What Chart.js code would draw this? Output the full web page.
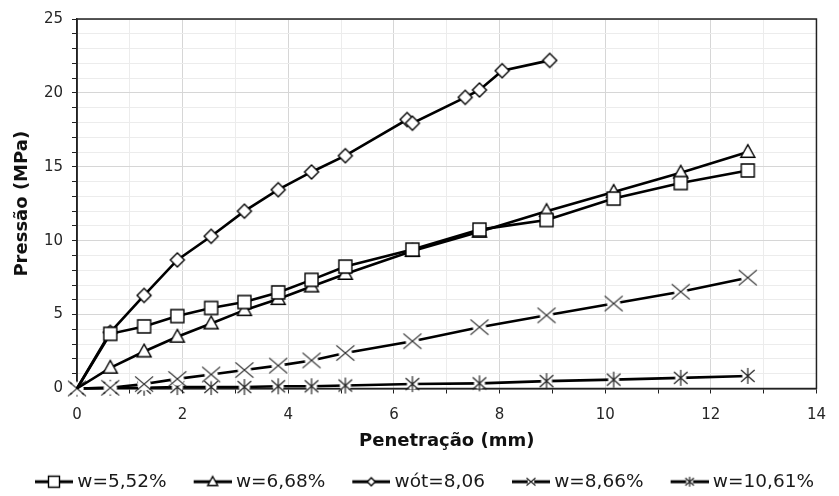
<!DOCTYPE html>
<html>
<head>
<meta charset="utf-8">
<script src="https://cdn.jsdelivr.net/npm/chart.js@4"></script>
<style>
  html, body { margin: 0; padding: 0; background: #fff; }
</style>
</head>
<body>
<canvas id="chart" width="839" height="496"></canvas>
<script>
const seriesNames = ['w=5,52%', 'w=6,68%', 'wót=8,06', 'w=8,66%', 'w=10,61%'];
const penetration = [0, 0.63, 1.27, 1.9, 2.54, 3.17, 3.81, 4.44, 5.08, 6.35, 7.62, 8.89, 10.16, 11.43, 12.7];
const pressureW552 = [0, 3.7, 4.2, 4.9, 5.45, 5.85, 6.5, 7.35, 8.25, 9.4, 10.75, 11.4, 12.85, 13.9, 14.75];
const pressureW668 = [0, 1.4, 2.5, 3.5, 4.4, 5.3, 6.05, 6.9, 7.75, 9.3, 10.6, 12.0, 13.3, 14.6, 16.0];
const penetrationOpt = [0, 0.63, 1.27, 1.9, 2.54, 3.17, 3.81, 4.44, 5.08, 6.25, 6.35, 7.35, 7.62, 8.05, 8.95];
const pressureOpt = [0, 3.8, 6.3, 8.7, 10.3, 12.0, 13.45, 14.65, 15.75, 18.2, 17.95, 19.7, 20.2, 21.5, 22.2];
const pressureW866 = [0, 0.05, 0.3, 0.65, 0.95, 1.25, 1.55, 1.9, 2.4, 3.2, 4.15, 4.95, 5.75, 6.55, 7.5];
const pressureW1061 = [0, 0.05, 0.05, 0.1, 0.1, 0.1, 0.15, 0.15, 0.2, 0.3, 0.35, 0.5, 0.6, 0.72, 0.85];
const xTicks = [0, 2, 4, 6, 8, 10, 12, 14];
const yTicks = [0, 5, 10, 15, 20, 25];

// marker shapes, drawn on small canvases so the legend can reuse them
const drawMarker = (ctx, kind, cx, cy, r) => {
  ctx.strokeStyle = '#000';
  ctx.fillStyle = '#fff';
  ctx.lineWidth = 1.4;
  ctx.beginPath();
  if (kind === 'square') {
    ctx.rect(cx - r, cy - r, 2 * r, 2 * r);
    ctx.fill();
    ctx.stroke();
  } else if (kind === 'triangle') {
    ctx.moveTo(cx, cy - r * 1.05);
    ctx.lineTo(cx + r, cy + r * 0.75);
    ctx.lineTo(cx - r, cy + r * 0.75);
    ctx.closePath();
    ctx.fill();
    ctx.stroke();
  } else if (kind === 'diamond') {
    ctx.moveTo(cx, cy - r);
    ctx.lineTo(cx + r, cy);
    ctx.lineTo(cx, cy + r);
    ctx.lineTo(cx - r, cy);
    ctx.closePath();
    ctx.fill();
    ctx.stroke();
  } else if (kind === 'cross') {
    ctx.arc(cx, cy, r * 0.75, 0, Math.PI * 2);
    ctx.fill();
    ctx.beginPath();
    ctx.lineWidth = 1.2;
    ctx.strokeStyle = '#222';
    ctx.moveTo(cx - r, cy - r * 0.85);
    ctx.lineTo(cx + r, cy + r * 0.85);
    ctx.moveTo(cx + r, cy - r * 0.85);
    ctx.lineTo(cx - r, cy + r * 0.85);
    ctx.stroke();
  } else if (kind === 'star') {
    ctx.arc(cx, cy, r * 0.7, 0, Math.PI * 2);
    ctx.fill();
    ctx.beginPath();
    ctx.lineWidth = 1.2;
    ctx.strokeStyle = '#222';
    ctx.moveTo(cx - r * 0.85, cy - r * 0.75);
    ctx.lineTo(cx + r * 0.85, cy + r * 0.75);
    ctx.moveTo(cx + r * 0.85, cy - r * 0.75);
    ctx.lineTo(cx - r * 0.85, cy + r * 0.75);
    ctx.moveTo(cx, cy - r);
    ctx.lineTo(cx, cy + r);
    ctx.stroke();
  }
};

const makePointImage = (kind, r) => {
  const size = Math.ceil(2 * r + 4);
  const c = document.createElement('canvas');
  c.width = size;
  c.height = size;
  drawMarker(c.getContext('2d'), kind, size / 2, size / 2, r);
  return c;
};

// legend icon: short line with the marker, right-aligned in a wider image
const makeLegendImage = (kind, r) => {
  const c = document.createElement('canvas');
  c.width = 64;
  c.height = 20;
  const ctx = c.getContext('2d');
  ctx.strokeStyle = '#000';
  ctx.lineWidth = 3;
  ctx.beginPath();
  ctx.moveTo(26, 10);
  ctx.lineTo(64, 10);
  ctx.stroke();
  drawMarker(ctx, kind, 45, 10, r);
  return c;
};

const markerKinds = ['square', 'triangle', 'diamond', 'cross', 'star'];
const markerSizes = [6.5, 7, 7, 9, 8];
const legendSizes = [5.5, 5, 4, 4.5, 5];
const xValues = [penetration, penetration, penetrationOpt, penetration, penetration];
const yValues = [pressureW552, pressureW668, pressureOpt, pressureW866, pressureW1061];
// the first three series show no marker at the origin
const originMarker = [false, false, false, true, true];

const legendIcons = markerKinds.map((k, i) => makeLegendImage(k, legendSizes[i]));

const plotFrame = {
  id: 'plotFrame',
  beforeDatasetsDraw(chart) {
    const { ctx, chartArea: a } = chart;
    ctx.save();
    ctx.strokeStyle = '#222';
    ctx.lineWidth = 1.5;
    ctx.strokeRect(a.left, a.top, a.right - a.left, a.bottom - a.top);
    ctx.restore();
  },
};

const ctx = document.getElementById('chart').getContext('2d');
new Chart(ctx, {
  type: 'line',
  data: {
    datasets: seriesNames.map((name, i) => ({
      label: name,
      data: xValues[i].map((x, j) => ({ x: x, y: yValues[i][j] })),
      borderColor: '#000',
      borderWidth: 2.6,
      pointStyle: makePointImage(markerKinds[i], markerSizes[i]),
      pointRadius: (c) => (c.dataIndex === 0 && !originMarker[i] ? 0 : 7),
      tension: 0,
      clip: false,
    })),
  },
  options: {
    responsive: false,
    animation: false,
    layout: {
      padding: { left: 8, right: 14, top: 19, bottom: -5 },
    },
    plugins: {
      tooltip: { enabled: false },
      legend: {
        position: 'bottom',
        align: 'start',
        labels: {
          usePointStyle: true,
          pointStyleWidth: 54,
          padding: 6,
          color: '#1a1a1a',
          font: { family: 'DejaVu Sans', size: 18.5 },
          generateLabels: (chart) =>
            chart.data.datasets.map((ds, i) => ({
              text: ds.label,
              pointStyle: legendIcons[i],
              fillStyle: '#fff',
              strokeStyle: '#000',
              lineWidth: 0,
              hidden: false,
              datasetIndex: i,
              fontColor: '#1a1a1a',
            })),
        },
      },
    },
    scales: {
      x: {
        type: 'linear',
        min: 0,
        max: 14,
        afterFit: (scale) => {
          scale.height = 78;
        },
        afterBuildTicks: (scale) => {
          scale.ticks = Array.from({ length: 15 }, (_, i) => ({ value: i }));
        },
        ticks: {
          autoSkip: false,
          maxRotation: 0,
          padding: 13,
          color: '#262626',
          font: { family: 'DejaVu Sans', size: 15 },
          callback: (v) => (xTicks.includes(v) ? v : ''),
        },
        grid: {
          color: (c) => (c.tick && c.tick.value % 2 === 0 ? '#d6d6d6' : '#ececec'),
          tickColor: '#222',
          tickLength: 5,
          lineWidth: 1,
        },
        border: { color: '#222', width: 1.5 },
        title: {
          display: true,
          text: 'Penetração (mm)',
          color: '#111',
          font: { family: 'DejaVu Sans', size: 18, weight: 'bold' },
          padding: { top: 4, bottom: 14 },
        },
      },
      y: {
        type: 'linear',
        min: 0,
        max: 25,
        afterFit: (scale) => {
          scale.width = 69;
        },
        afterBuildTicks: (scale) => {
          scale.ticks = Array.from({ length: 26 }, (_, i) => ({ value: i }));
        },
        ticks: {
          autoSkip: false,
          padding: 9,
          color: '#262626',
          font: { family: 'DejaVu Sans', size: 15 },
          callback: (v) => (yTicks.includes(v) ? v : ''),
        },
        grid: {
          color: (c) => (c.tick && c.tick.value % 5 === 0 ? '#d6d6d6' : '#ececec'),
          tickColor: '#222',
          tickLength: 5,
          lineWidth: 1,
        },
        border: { color: '#222', width: 1.5 },
        title: {
          display: true,
          text: 'Pressão (MPa)',
          color: '#111',
          font: { family: 'DejaVu Sans', size: 18, weight: 'bold' },
          padding: { top: 4, bottom: 4 },
        },
      },
    },
  },
  plugins: [plotFrame],
});
</script>
</body>
</html>
